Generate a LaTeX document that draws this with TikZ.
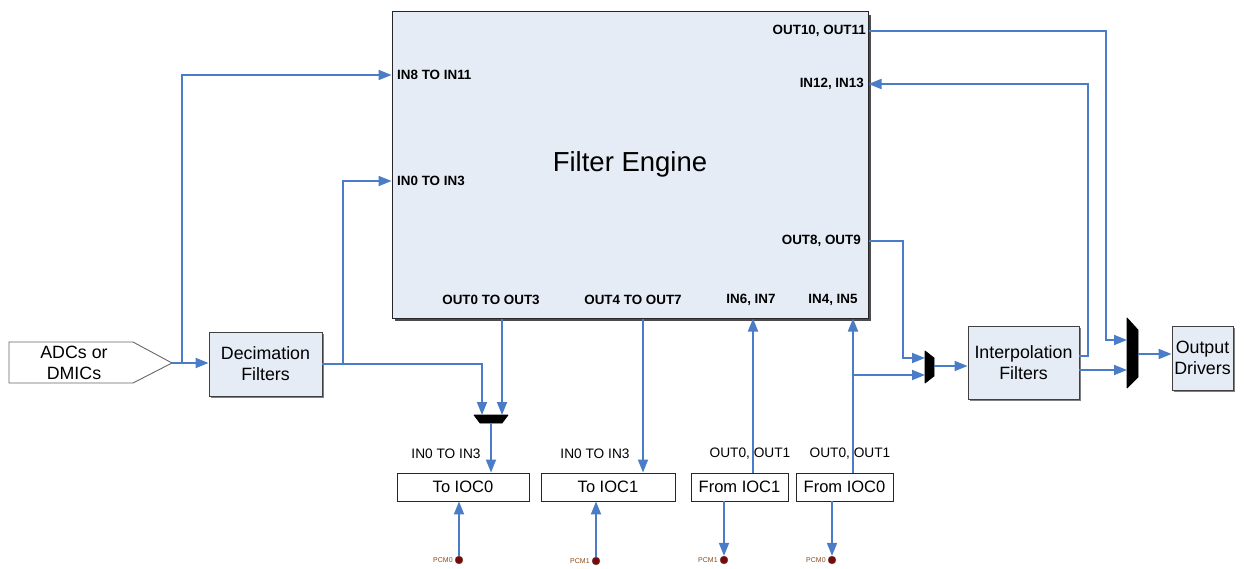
\documentclass[tikz,border=0pt]{standalone}
\usepackage{fontspec}
\setmainfont{Liberation Sans}
\usetikzlibrary{arrows.meta,calc}
\definecolor{wire}{HTML}{4A7CC7}
\definecolor{boxfill}{HTML}{E5ECF6}
\definecolor{pcm}{HTML}{7A0A0A}
\definecolor{pcmtxt}{HTML}{8A4A1A}
\tikzset{
  wireln/.style={draw=wire,line width=1.8pt},
  arr/.style={wireln,-{Triangle[length=13pt,width=10pt]}},
  blk/.style={draw=black!75,line width=0.9pt,fill=boxfill,inner sep=0pt,align=center,
    font=\fontsize{17.8}{21}\selectfont},
  iocbox/.style={draw=black!85,line width=0.9pt,fill=white,inner sep=0pt,
    minimum height=28pt,font=\fontsize{16.5}{19}\selectfont},
  port/.style={inner sep=0pt,font=\bfseries\fontsize{13.4}{15}\selectfont},
  plbl/.style={inner sep=0pt,font=\fontsize{13.7}{15}\selectfont},
  pcmlbl/.style={inner sep=0pt,font=\fontsize{7}{8}\selectfont,text=pcmtxt},
  pcmdot/.style={circle,fill=pcm,draw=black!60,line width=0.3pt,inner sep=0pt,minimum size=8pt},
  muxshape/.style={fill=black,draw=black,line width=0.8pt,line join=round}
}
\begin{document}
\begin{tikzpicture}[x=1pt,y=-1pt]
\useasboundingbox (0,0) rectangle (1244,569);
% Filter engine
\fill[black!70] (395,15) rectangle (871,321);
\node[blk,line width=1pt,draw=black!85,minimum width=476pt,minimum height=306pt] (FE) at (630,165) {};
\node[inner sep=0pt,font=\fontsize{27.5}{32}\selectfont] (fetitle) at (630,164) {Filter Engine};
\node[port,anchor=west] (pIn8) at (397,75) {IN8 TO IN11};
\node[port,anchor=west] (pIn0) at (397,181) {IN0 TO IN3};
\node[port,anchor=east] (pOut10) at (866,31) {OUT10, OUT11};
\node[port,anchor=east] (pIn12) at (864,84) {IN12, IN13};
\node[port,anchor=east] (pOut8) at (861,241) {OUT8, OUT9};
\node[port] (pOut0) at (491,300) {OUT0 TO OUT3};
\node[port] (pOut4) at (633,300) {OUT4 TO OUT7};
\node[port] (pIn6) at (751,300) {IN6, IN7};
\node[port] (pIn4) at (833,300) {IN4, IN5};
% ADC source
\draw[black!60,line width=0.9pt,fill=white] (9,342) -- (133,342) -- (172,363) -- (133,383) -- (9,383) -- cycle;
\coordinate (adc) at (172,363);
\node[inner sep=0pt,align=center,font=\fontsize{17.8}{21}\selectfont] (adctxt) at (74,363) {ADCs or\\DMICs};
% blocks
\fill[black!50] (211,334) rectangle (324,398);
\node[blk,minimum width=113pt,minimum height=64pt] (dec) at (265.5,364) {Decimation\\Filters};
\fill[black!50] (970,328) rectangle (1081,401);
\node[blk,minimum width=111pt,minimum height=73pt] (interp) at (1023.5,362.5) {Interpolation\\Filters};
\fill[black!50] (1174,328) rectangle (1235,392);
\node[blk,minimum width=61pt,minimum height=64pt] (outdrv) at (1202.5,358) {Output\\Drivers};
% IOC boxes
\node[iocbox,minimum width=132pt] (toI0) at (463,487) {To IOC0};
\node[iocbox,minimum width=134pt] (toI1) at (608,487) {To IOC1};
\node[iocbox,minimum width=97pt] (frI1) at (739.5,487) {From IOC1};
\node[iocbox,minimum width=97pt] (frI0) at (844.5,487) {From IOC0};
\node[plbl] (l1) at (446,454) {IN0 TO IN3};
\node[plbl] (l2) at (595,454) {IN0 TO IN3};
\node[plbl] (l3) at (750,454) {OUT0, OUT1};
\node[plbl] (l4) at (850,454) {OUT0, OUT1};
% muxes
\draw[muxshape] (474,415) -- (508,415) -- (502,423) -- (480,423) -- cycle;
\coordinate (m1a) at (482,415);
\coordinate (m1b) at (502,415);
\coordinate (m1o) at (491,423);
\draw[muxshape] (925,351) -- (934,358) -- (934,376) -- (925,383) -- cycle;
\coordinate (m2a) at (925,358);
\coordinate (m2b) at (925,375);
\coordinate (m2o) at (934,366);
\draw[muxshape] (1127,318) -- (1138,330) -- (1138,377) -- (1127,388) -- cycle;
\coordinate (m3a) at (1127,340);
\coordinate (m3b) at (1127,370);
\coordinate (m3o) at (1138,354);
% branch points
\coordinate (b1) at (182,363);
\coordinate (b2) at (343,364);
\coordinate (b3) at (853,375);
% wires
\draw[arr] (adc) -- (dec.west |- adc);
\draw[arr] (b1) |- (FE.west |- pIn8);
\draw[arr] (dec.east) -| (b2) |- (FE.west |- pIn0);
\draw[arr] (dec.east) -| (m1a);
\draw[arr] (FE.south -| m1b) -- (m1b);
\draw[arr] (m1o) -- (toI0.north -| m1o);
\draw[arr] (FE.south -| 643,0) -- (toI1.north -| 643,0);
\draw[arr] (frI1.north -| 753,0) -- (FE.south -| 753,0);
\draw[arr] (frI0.north -| b3) -- (FE.south -| b3);
\draw[arr] (b3) -- (m2b);
\draw[arr] (FE.east |- pOut8) -| (903,358) -- (m2a);
\draw[arr] (m2o) -- (interp.west |- m2o);
\draw[arr] (interp.east |- 0,356) -| (1088,84) -- (FE.east |- pIn12);
\draw[arr] (interp.east |- m3b) -- (m3b);
\draw[arr] (FE.east |- pOut10) -| (1106,340) -- (m3a);
\draw[arr] (m3o) -- (outdrv.west |- m3o);
% PCM
\node[pcmdot] (pcm0a) at (459,560) {};
\node[pcmdot] (pcm1a) at (596,561) {};
\node[pcmdot] (pcm1b) at (724,560) {};
\node[pcmdot] (pcm0b) at (832,560) {};
\node[pcmlbl,anchor=east] at ($(pcm0a.west)+(-2,0)$) {PCM0};
\node[pcmlbl,anchor=east] at ($(pcm1a.west)+(-2,0)$) {PCM1};
\node[pcmlbl,anchor=east] at ($(pcm1b.west)+(-2,0)$) {PCM1};
\node[pcmlbl,anchor=east] at ($(pcm0b.west)+(-2,0)$) {PCM0};
\draw[arr] (pcm0a.north) -- (toI0.south -| pcm0a);
\draw[arr] (pcm1a.north) -- (toI1.south -| pcm1a);
\draw[arr] (frI1.south -| pcm1b) -- (pcm1b.north);
\draw[arr] (frI0.south -| pcm0b) -- (pcm0b.north);
\end{tikzpicture}
\end{document}
